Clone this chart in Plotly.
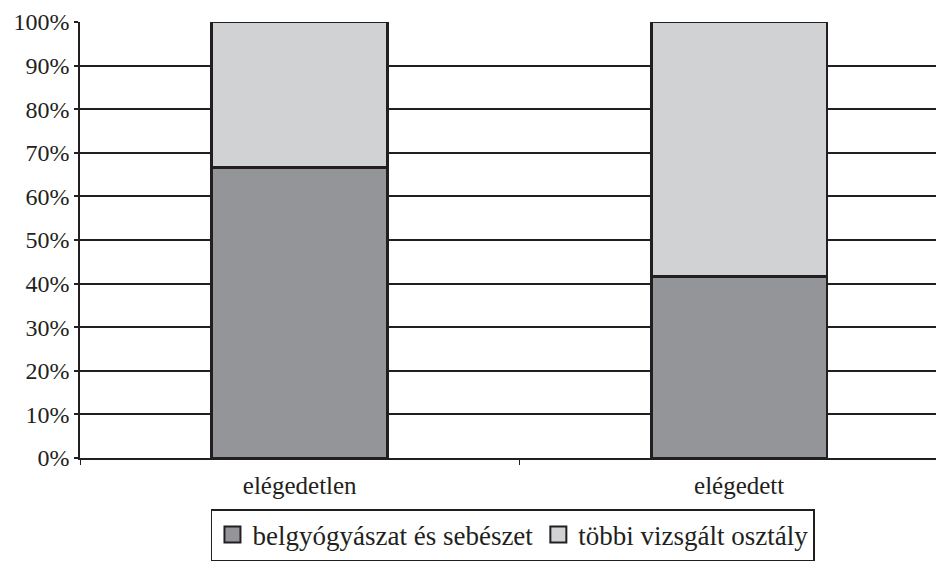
import plotly.graph_objects as go

# Share of respondents by satisfaction group (percent)
categories = ["elégedetlen", "elégedett"]
belgyogyaszat_sebeszet = [66.7, 41.7]
tobbi_osztaly = [33.3, 58.3]
series_names = ["belgyógyászat és sebészet", "többi vizsgált osztály"]
y_ticks = [0, 10, 20, 30, 40, 50, 60, 70, 80, 90, 100]
y_tick_labels = [f"{v}%" for v in y_ticks]

DARK = "#939598"
LIGHT = "#d1d2d4"
INK = "#231f20"
FONT = "Liberation Serif"

fig = go.Figure()
for name, vals, col in [(series_names[0], belgyogyaszat_sebeszet, DARK),
                        (series_names[1], tobbi_osztaly, LIGHT)]:
    fig.add_trace(go.Bar(
        x=categories, y=vals, name=name, width=0.4,
        marker=dict(color=col, line=dict(color=INK, width=2.8)),
        showlegend=False,
    ))
    # larger square swatches for the legend
    fig.add_trace(go.Scatter(
        x=[None], y=[None], mode="markers", name=name,
        marker=dict(symbol="square", size=16, color=col,
                    line=dict(color=INK, width=2)),
    ))

fig.update_layout(
    barmode="stack",
    width=936, height=561,
    margin=dict(l=80, r=0, t=22, b=101),
    paper_bgcolor="white", plot_bgcolor="white",
    font=dict(family=FONT, size=24, color=INK),
    legend=dict(
        orientation="h", x=0.153, y=-0.118, xanchor="left", yanchor="top",
        bordercolor=INK, borderwidth=1.5, bgcolor="white",
        font=dict(family=FONT, size=27, color=INK),
        itemsizing="trace", itemwidth=30,
        traceorder="normal", tracegroupgap=0,
    ),
)
fig.update_xaxes(
    type="category", range=[-0.5, 1.448],
    showline=True, linecolor=INK, linewidth=2,
    ticks="outside", ticklen=5, tickwidth=1, tickcolor=INK,
    tickson="boundaries", showgrid=False, ticklabelstandoff=4,
    tickfont=dict(family=FONT, size=25, color=INK),
)
fig.update_yaxes(
    range=[0, 100], tickvals=y_ticks, ticktext=y_tick_labels,
    showline=True, linecolor=INK, linewidth=1.5,
    ticks="outside", ticklen=4, tickwidth=1.5, tickcolor=INK,
    showgrid=True, gridcolor=INK, gridwidth=2,
    zeroline=False,
    tickfont=dict(family=FONT, size=24, color=INK),
)

fig.write_html("out.html")
